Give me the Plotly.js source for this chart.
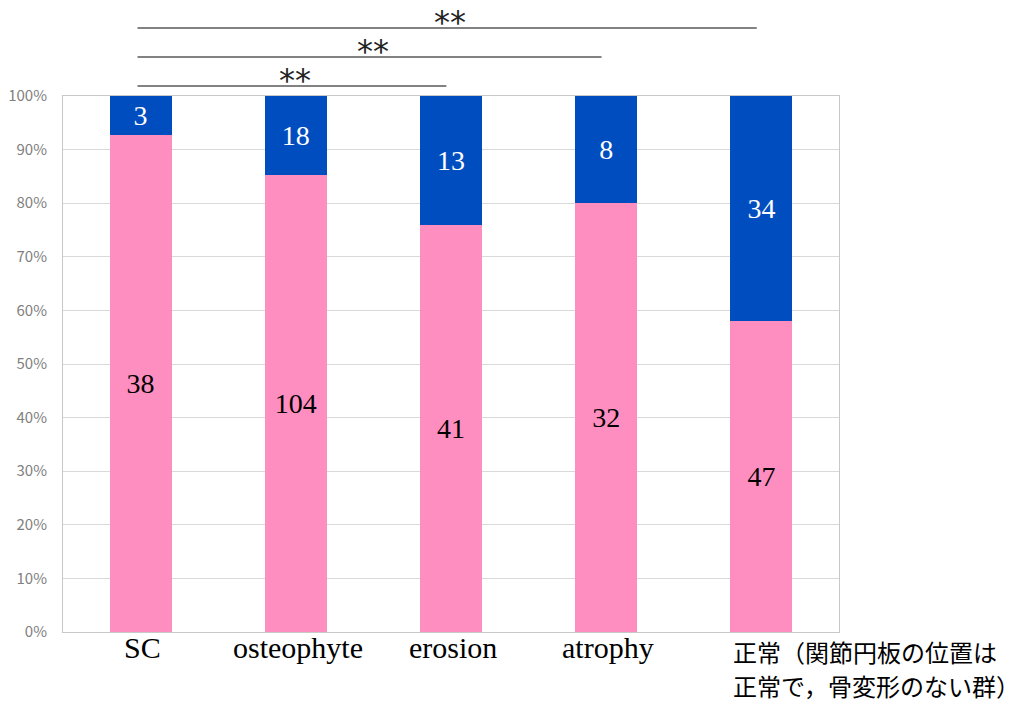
<!DOCTYPE html>
<html><head><meta charset="utf-8">
<script src="https://cdn.plot.ly/plotly-3.0.1.min.js"></script>
<style>html,body{margin:0;padding:0;background:#fff}#chart{width:1025px;height:708px}</style>
</head><body><div id="chart"></div>
<script>
// ---- data ----
const categoryKeys = ['SC', 'osteophyte', 'erosion', 'atrophy', '正常'];
const categoryLabels = ['SC', 'osteophyte', 'erosion', 'atrophy', '正常（関節円板の位置は<br>正常で，骨変形のない群）'];
const pinkCounts = [38, 104, 41, 32, 47];
const blueCounts = [3, 18, 13, 8, 34];
const yTickVals = [0, 10, 20, 30, 40, 50, 60, 70, 80, 90, 100];
const yTickText = ['0%', '10%', '20%', '30%', '40%', '50%', '60%', '70%', '80%', '90%', '100%'];
const sigFrom = ['SC', 'SC', 'SC'];
const sigTo = ['erosion', 'atrophy', '正常'];
const sigMarks = ['**', '**', '**'];

// ---- styling ----
const PINK = '#FF8EC0', BLUE = '#004DC0';
const serif = 'Liberation Serif, Times New Roman, serif';
const cjk = 'Noto Sans CJK JP, sans-serif';

const traces = [
  {
    type: 'bar', name: 'pink', x: categoryKeys, y: pinkCounts,
    text: pinkCounts.map(String), textposition: 'inside', insidetextanchor: 'middle',
    constraintext: 'none', textfont: {family: serif, size: 28, color: '#000000'},
    marker: {color: PINK}, hoverinfo: 'none'
  },
  {
    type: 'bar', name: 'blue', x: categoryKeys, y: blueCounts,
    text: blueCounts.map(String), textposition: 'inside', insidetextanchor: 'middle',
    constraintext: 'none', textfont: {family: serif, size: 28, color: '#ffffff'},
    marker: {color: BLUE}, hoverinfo: 'none'
  }
];

const annotations = [];
categoryKeys.forEach((k, i) => {
  const last = i === categoryKeys.length - 1;
  if (!last) {
    annotations.push({
      x: k, xref: 'x', y: 0, yref: 'paper', yanchor: 'top', yshift: 2,
      xanchor: 'center', xshift: 2, borderpad: 0,
      text: categoryLabels[i], showarrow: false,
      font: {family: serif, size: 30, color: '#000'}
    });
  } else {
    categoryLabels[i].split('<br>').forEach((line, j) => {
      annotations.push({
        x: k, xref: 'x', y: 0, yref: 'paper', yanchor: 'top', yshift: -1 - 34 * j,
        xanchor: 'left', xshift: -29, align: 'left', borderpad: 0,
        text: line, showarrow: false,
        font: {family: cjk, size: 24, color: '#000'}
      });
    });
  }
});

const shapes = [];
const levels = [1.0187, 1.0728, 1.1269];
sigFrom.forEach((f, i) => {
  const i0 = categoryKeys.indexOf(f) - 0.02;
  const i1 = categoryKeys.indexOf(sigTo[i]) - 0.03;
  shapes.push({type: 'line', xref: 'x', yref: 'paper', x0: i0, x1: i1, y0: levels[i], y1: levels[i],
    line: {color: '#595959', width: 1.5}});
  annotations.push({x: (i0 + i1) / 2 + 0.02, xref: 'x', y: levels[i], yref: 'paper', yanchor: 'middle', yshift: 6,
    text: sigMarks[i], showarrow: false, font: {family: 'DejaVu Sans', size: 32, color: '#222'}});
});

const layout = {
  width: 1025, height: 708,
  margin: {l: 63, r: 186, t: 96, b: 76, pad: 0},
  paper_bgcolor: '#ffffff', plot_bgcolor: '#ffffff',
  barmode: 'stack', barnorm: 'percent', bargap: 0.6,
  showlegend: false,
  xaxis: {type: 'category', range: [-0.5, 4.5], showticklabels: false, showgrid: false,
    showline: true, mirror: true, linecolor: '#c8c8c8', linewidth: 1, ticks: '', fixedrange: true},
  yaxis: {range: [0, 100], tickmode: 'array', tickvals: yTickVals, ticktext: yTickText,
    showgrid: true, gridcolor: '#d9d9d9',
    showline: true, mirror: true, linecolor: '#c8c8c8', linewidth: 1, zeroline: false, ticks: '',
    ticklabelstandoff: 12,
    tickfont: {family: cjk, size: 15, color: '#808080'}, fixedrange: true},
  shapes: shapes,
  annotations: annotations
};

Plotly.newPlot('chart', traces, layout, {displayModeBar: false, staticPlot: true});
</script></body></html>
